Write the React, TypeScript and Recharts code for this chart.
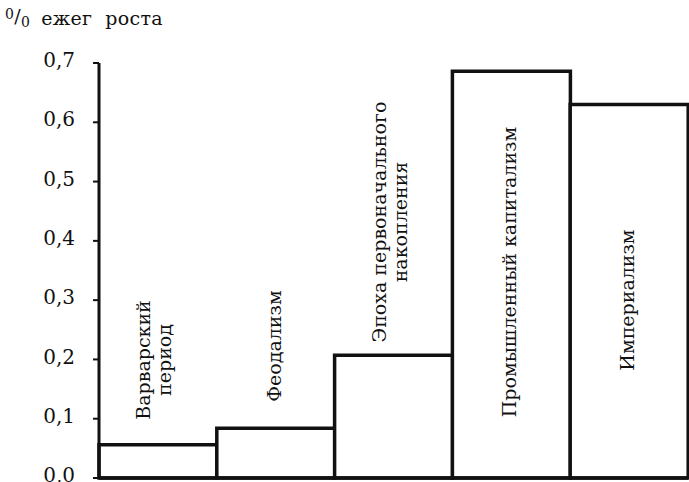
import React from "react";
import { BarChart, Bar, XAxis, YAxis, LabelList, Label } from "recharts";

// periods of history (bar labels, split into lines as printed)
const periods = [
  "Варварский период",
  "Феодализм",
  "Эпоха первоначального накопления",
  "Промышленный капитализм",
  "Империализм",
];
const periodLines = [
  ["Варварский", "период"],
  ["Феодализм"],
  ["Эпоха первоначального", "накопления"],
  ["Промышленный капитализм"],
  ["Империализм"],
];
// average annual growth, %
const growth = [0.056, 0.084, 0.207, 0.686, 0.63];
const yTicks = [0, 0.1, 0.2, 0.3, 0.4, 0.5, 0.6, 0.7];

const data = periods.map((name, i) => ({ name, value: growth[i] }));

// layout only: vertical middle of each rotated label
const labelMidY = [360, 346, 222, 272, 300];

const ink = "#111";
const serif = "DejaVu Serif";

const BarText = (props: any) => {
  const { x, width, index } = props;
  const lines = periodLines[index];
  const cx = x + width / 2;
  const cy = labelMidY[index];
  return (
    <g>
      {lines.map((line: string, i: number) => {
        const bx = lines.length === 1 ? cx + 5 : cx - 8 + i * 21;
        return (
          <text
            key={i}
            x={bx}
            y={cy}
            transform={`rotate(-90 ${bx} ${cy})`}
            textAnchor="middle"
            style={{ fontFamily: serif, fontSize: 19 }}
            fill={ink}
          >
            {line}
          </text>
        );
      })}
    </g>
  );
};

const Title = () => (
  <text x={5} y={25} style={{ fontFamily: serif, fontSize: 19, letterSpacing: 0.3 }} fill={ink}>
    <tspan style={{ fontSize: 14 }} dy={-6}>0</tspan>
    <tspan style={{ fontSize: 19 }} dy={4}>/</tspan>
    <tspan style={{ fontSize: 14 }} dy={4}>0</tspan>
    <tspan dx={11} dy={-2}>ежег</tspan>
    <tspan dx={13}>роста</tspan>
  </text>
);

export default function App() {
  return (
    <div style={{ position: "absolute", left: 0, top: 0, background: "#fff" }}>
      <BarChart
        width={689}
        height={482}
        data={data}
        barCategoryGap={0}
        margin={{ top: 63, right: 1, bottom: 3, left: 0 }}
      >
        <XAxis
          dataKey="name"
          tick={false}
          tickLine={false}
          height={1}
          axisLine={{ stroke: ink, strokeWidth: 3.5 }}
        />
        <YAxis
          width={99}
          domain={[0, 0.7]}
          ticks={yTicks}
          interval={0}
          tickSize={6}
          tickMargin={18}
          tickFormatter={(v: number) => v.toFixed(1).replace(".", ",")}
          tick={{ fill: ink, fontSize: 20, dy: -3, fontFamily: serif }}
          tickLine={{ stroke: ink, strokeWidth: 2 }}
          axisLine={{ stroke: ink, strokeWidth: 3 }}
        >
          <Label content={<Title />} />
        </YAxis>
        <Bar
          dataKey="value"
          fill="#fff"
          stroke={ink}
          strokeWidth={3.5}
          isAnimationActive={false}
        >
          <LabelList dataKey="name" content={<BarText />} />
        </Bar>
      </BarChart>
    </div>
  );
}
